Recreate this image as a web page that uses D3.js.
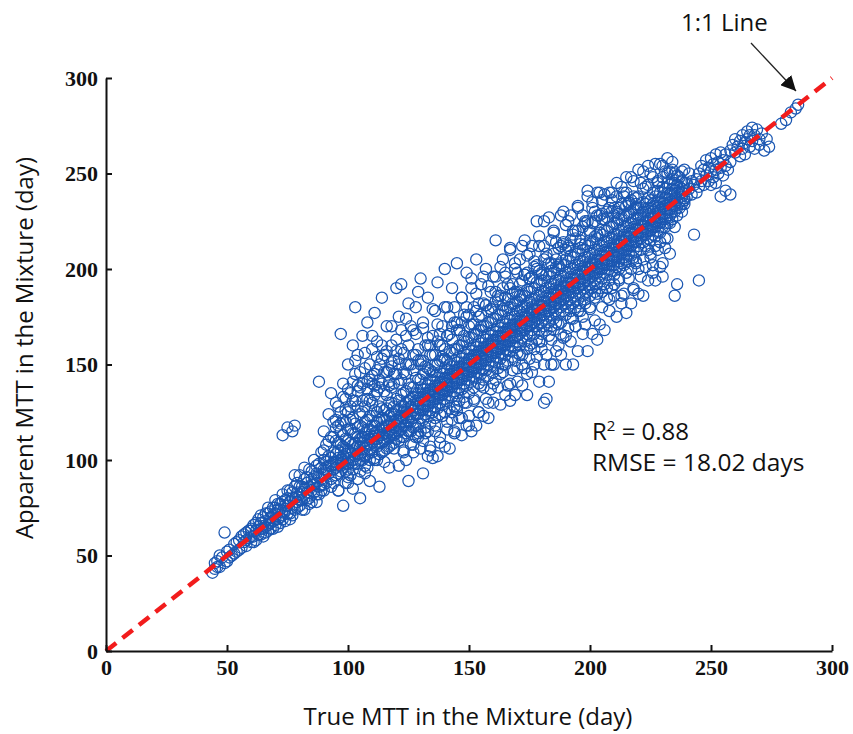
<!DOCTYPE html>
<html>
<head>
<meta charset="utf-8">
<script src="https://cdn.jsdelivr.net/npm/d3@7"></script>
<style>
  body { margin: 0; background: #fff; }
</style>
</head>
<body>
<script>
const width = 853, height = 734;

// [true MTT, apparent MTT] (days)
const mttPairs = [
  [44,41],[45,43],[46,47],[47,44],[48,49],[49,62],[50,47],[51,53],[52,50],[53,56],[54,52],[55,58],[56,54],[56,60],[57,57],[58,55],[58,62],[59,59],[60,57],[60,64],
  [61,60],[61,66],[62,63],[62,58],[63,65],[63,69],[64,61],[64,67],[65,64],[65,70],[66,62],[66,68],[67,66],[67,72],[68,64],[68,70],[69,68],[69,75],[70,66],[70,72],
  [70,79],[71,69],[71,74],[72,70],[72,77],[73,71],[73,113],[73,82],[74,73],[74,68],[75,76],[75,117],[75,80],[76,72],[76,84],[77,75],[77,115],[77,80],[78,118],[78,74],
  [78,86],[79,78],[79,83],[80,76],[80,82],[80,92],[81,79],[81,86],[82,80],[82,74],[82,90],[83,83],[83,88],[84,80],[84,95],[85,84],[85,78],[85,90],[86,87],[86,100],
  [87,82],[87,93],[88,141],[88,86],[88,98],[89,90],[89,84],[89,104],[90,92],[90,87],
  [90,100],[90,115],[91,88],[91,96],[91,108],[92,93],[92,102],[92,124],[93,90],[93,97],[93,112],[93,135],[94,95],[94,104],[94,88],[94,120],
  [95,99],[95,110],[95,92],[95,130],[96,97],[96,105],[96,118],[96,84],[97,100],[97,166],[97,108],[97,94],[97,125],[98,102],[98,113],[98,96],[98,140],[99,98],[99,106],[99,120],[99,88],[99,132],
  [100,101],[100,110],[100,95],[100,125],[100,150],[101,104],[101,116],[101,92],[101,135],[102,100],[102,108],[102,122],[102,160],[103,180],[103,106],[103,98],[103,114],[103,145],[104,103],[104,112],[104,128],[104,90],[104,155],
  [105,107],[105,118],[105,100],[105,138],[106,104],[106,112],[106,125],[106,165],[107,110],[107,102],[107,120],[107,148],[108,108],[108,116],[108,96],[108,132],[108,172],[109,111],[109,105],[109,123],[109,142],
  [110,112],[110,118],[110,104],[110,130],[110,158],[111,177],[111,114],[111,108],[111,126],[111,145],[112,111],[112,120],[112,100],[112,136],[112,162],[113,116],[113,109],[113,128],[113,150],[114,113],[114,122],[114,104],[114,140],[114,185],
  [115,117],[115,110],[115,126],[115,155],[116,114],[116,121],[116,106],[116,134],[116,170],[117,118],[117,112],[117,130],[117,147],[118,116],[118,124],[118,108],[118,138],[118,160],[119,120],[119,113],[119,128],[119,152],
  [120,190],[120,121],[120,114],[120,132],[120,145],[121,119],[121,126],[121,110],[121,140],[121,175],[122,192],[122,123],[122,116],[122,134],[122,158],[123,122],[123,128],[123,112],[123,146],[124,125],[124,118],[124,136],[124,100],[124,165],
  [125,89],[125,127],[125,120],[125,140],[125,182],[126,124],[126,132],[126,115],[126,150],[127,129],[127,122],[127,138],[127,108],[127,168],[128,128],[128,135],[128,118],[128,155],[129,131],[129,124],[129,142],[129,112],[129,188],
  [130,130],[130,138],[130,122],[130,150],[130,195],[131,133],[131,126],[131,145],[131,110],[131,172],[132,132],[132,140],[132,124],[132,160],[133,135],[133,128],[133,148],[133,115],[133,185],[134,134],[134,142],[134,126],[134,155],[134,105],
  [135,137],[135,130],[135,146],[135,165],[136,136],[136,144],[136,128],[136,178],[136,118],[137,139],[137,132],[137,150],[137,193],[138,138],[138,146],[138,130],[138,160],[138,112],[139,141],[139,134],[139,152],[139,170],
  [140,140],[140,148],[140,132],[140,158],[140,200],[141,143],[141,136],[141,152],[141,120],[141,180],[142,142],[142,150],[142,134],[142,166],[143,145],[143,138],[143,156],[143,125],[143,190],[144,144],[144,152],[144,136],[144,172],[144,115],
  [145,147],[145,140],[145,158],[145,203],[145,128],[146,146],[146,154],[146,138],[146,168],[147,149],[147,142],[147,160],[147,185],[147,122],[148,148],[148,156],[148,140],[148,176],[149,151],[149,144],[149,162],[149,130],[149,198],
  [150,150],[150,158],[150,142],[150,170],[150,118],[151,153],[151,146],[151,164],[151,190],[152,152],[152,160],[152,144],[152,180],[152,132],[153,155],[153,148],[153,166],[153,205],[154,154],[154,162],[154,146],[154,175],[154,125],
  [155,157],[155,150],[155,168],[155,192],[156,156],[156,164],[156,148],[156,182],[156,138],[157,159],[157,152],[157,170],[157,200],[158,158],[158,166],[158,150],[158,178],[158,130],[159,161],[159,154],[159,172],[159,188],
  [160,160],[160,168],[160,152],[160,180],[160,140],[161,215],[161,163],[161,156],[161,174],[161,196],[162,162],[162,170],[162,154],[162,186],[163,165],[163,158],[163,176],[163,145],[164,164],[164,172],[164,156],[164,190],[164,205],
  [165,167],[165,160],[165,178],[165,150],[165,198],[166,166],[166,174],[166,158],[166,184],[167,169],[167,162],[167,180],[167,140],[167,210],[168,168],[168,176],[168,160],[168,192],[169,171],[169,164],[169,182],[169,152],[169,200],
  [170,170],[170,178],[170,162],[170,188],[170,148],[171,173],[171,166],[171,184],[171,205],[172,172],[172,180],[172,164],[172,194],[172,155],[173,175],[173,168],[173,186],[173,215],[174,174],[174,182],[174,166],[174,198],[174,145],
  [175,177],[175,170],[175,188],[175,160],[175,208],[176,176],[176,184],[176,168],[176,196],[177,179],[177,172],[177,190],[177,150],[178,178],[178,225],[178,186],[178,170],[178,202],[179,181],[179,174],[179,192],[179,162],[179,212],
  [180,180],[180,188],[180,172],[180,198],[180,158],[181,225],[181,130],[181,183],[181,176],[181,194],[182,182],[182,132],[182,190],[182,174],[182,206],[183,185],[183,178],[183,196],[183,165],[184,184],[184,192],[184,176],[184,215],[184,150],
  [185,187],[185,180],[185,198],[185,168],[185,220],[186,186],[186,194],[186,178],[186,205],[187,189],[187,182],[187,200],[187,160],[188,188],[188,196],[188,180],[188,212],[188,172],[189,191],[189,184],[189,202],[189,230],
  [190,190],[190,198],[190,182],[190,210],[190,165],[191,193],[191,186],[191,204],[191,225],[192,192],[192,200],[192,184],[192,215],[192,174],[193,195],[193,188],[193,206],[193,150],[194,194],[194,202],[194,186],[194,220],[194,170],
  [195,197],[195,190],[195,208],[195,178],[195,232],[196,196],[196,204],[196,188],[196,215],[197,199],[197,192],[197,210],[197,175],[198,198],[198,206],[198,190],[198,225],[198,182],[199,201],[199,194],[199,212],[199,238],
  [200,200],[200,208],[200,192],[200,220],[200,180],[201,203],[201,196],[201,214],[201,232],[202,202],[202,210],[202,194],[202,225],[202,185],[203,240],[203,205],[203,198],[203,216],[203,163],[204,204],[204,212],[204,196],[204,228],
  [205,207],[205,200],[205,218],[205,188],[205,236],[206,206],[206,214],[206,198],[206,226],[207,209],[207,202],[207,220],[207,190],[208,208],[208,216],[208,200],[208,232],[208,184],[209,240],[209,211],[209,204],[209,222],
  [210,210],[210,218],[210,202],[210,228],[210,192],[211,213],[211,206],[211,224],[211,238],[212,212],[212,220],[212,204],[212,232],[212,195],[213,215],[213,208],[213,226],[213,186],[214,214],[214,222],[214,206],[214,238],
  [215,217],[215,210],[215,228],[215,198],[215,240],[216,216],[216,224],[216,208],[216,234],[217,219],[217,212],[217,230],[217,200],[218,218],[218,226],[218,210],[218,238],[218,190],[219,221],[219,214],[219,232],[219,204],
  [220,220],[220,228],[220,212],[220,238],[220,200],[221,223],[221,216],[221,232],[222,222],[222,230],[222,214],[222,242],[222,205],[223,225],[223,218],[223,234],[224,224],[224,232],[224,216],[224,210],[224,244],
  [225,227],[225,220],[225,236],[225,208],[226,226],[226,234],[226,218],[226,198],[227,229],[227,222],[227,238],[227,212],[228,228],[228,236],[228,220],[228,246],[229,231],[229,224],[229,240],[229,214],
  [230,196],[230,230],[230,238],[230,222],[230,248],[231,233],[231,226],[231,242],[231,216],[232,232],[232,240],[232,224],[232,250],[233,235],[233,228],[233,244],[234,234],[234,242],[234,226],[234,252],
  [235,186],[235,237],[235,230],[235,245],[235,222],[236,236],[236,244],[236,228],[236,192],[237,239],[237,232],[237,248],[238,238],[238,246],[238,230],[239,241],[239,234],[239,252],
  [45,46],[46,44],[47,50],[49,46],[50,52],[51,49],[53,51],[54,57],[55,53],[57,61],[58,58],[59,63],[60,60],
  [60,63],[61,57],[62,67],[63,61],[64,71],[64,64],[65,60],[66,72],[66,65],[67,63],[67,75],[68,73],[68,67],[69,64],[69,71],[70,75],[70,69],[71,77],[71,65],[72,74],
  [72,67],[73,78],[73,69],[74,79],[74,76],[75,72],[75,84],[76,78],[76,69],[77,83],[77,71],[78,80],[78,92],[79,75],[79,88],[80,79],[80,86],[81,83],[81,74],[82,85],
  [82,96],[83,79],[83,91],[84,86],[84,77],[85,94],[85,87],[86,83],[86,91],[87,88],[87,97],[87,78],[88,91],[88,82],[89,96],[89,87],[90,95],[90,84],
  [90,105],[91,99],[91,93],[92,97],[92,110],[93,101],[93,86],[94,99],[94,112],[95,103],[95,96],[95,117],[96,101],[96,93],[96,109],[97,104],[97,97],[97,115],[98,99],[98,107],
  [98,121],[99,103],[99,94],[99,111],[100,105],[100,98],[100,116],[100,88],[101,99],[101,109],[101,121],[102,105],[102,95],[102,114],[102,131],[103,102],[103,109],[103,119],[104,107],[104,98],
  [104,117],[104,136],[105,103],[105,111],[105,124],[105,94],[106,109],[106,100],[106,117],[106,140],[107,106],[107,114],[107,97],[107,128],[108,112],[108,103],[108,121],[108,141],[109,108],[109,116],
  [109,100],[109,131],[110,109],[110,115],[110,123],[110,140],[111,111],[111,118],[111,101],[111,134],[112,115],[112,107],[112,125],[112,147],[113,113],[113,121],[113,103],[113,138],[114,117],[114,109],
  [114,127],[114,153],[115,114],[115,121],[115,105],[115,136],[116,118],[116,111],[116,127],[116,146],[117,115],[117,123],[117,107],[117,139],[118,120],[118,113],[118,130],[118,149],[119,117],[119,124],
  [119,109],[119,140],[120,118],[120,126],[120,111],[120,157],[121,122],[121,115],[121,131],[121,150],[122,120],[122,128],[122,112],[122,142],[123,125],[123,118],[123,135],[123,104],[124,122],[124,130],
  [124,114],[124,150],[125,124],[125,131],[125,115],[125,150],[126,128],[126,120],[126,138],[126,108],[127,126],[127,133],[127,117],[127,147],[128,124],[128,131],[128,112],[128,143],[129,127],[129,135],
  [129,119],[129,152],
  [130,133],[130,126],[130,142],[130,115],[131,129],[131,137],[131,121],[131,152],[132,135],[132,128],[132,146],[132,117],[133,131],[133,139],[133,123],[133,160],[134,137],[134,130],[134,147],[134,119],
  [135,133],[135,141],[135,125],[135,155],[136,139],[136,132],[136,150],[136,122],[137,135],[137,143],[137,127],[137,162],[138,141],[138,134],[138,152],[138,124],[139,137],[139,145],[139,129],[139,160],
  [140,143],[140,136],[140,153],[140,125],[141,139],[141,147],[141,131],[141,165],[142,145],[142,138],[142,157],[142,127],[143,141],[143,149],[143,133],[143,170],[144,147],[144,140],[144,158],[144,128],
  [145,143],[145,151],[145,135],[145,168],[146,149],[146,142],[146,160],[146,131],[147,145],[147,153],[147,137],[147,172],[148,151],[148,144],[148,162],[148,133],[149,147],[149,155],[149,139],[149,175],
  [150,153],[150,146],[150,164],[150,135],[151,149],[151,157],[151,141],[151,171],[152,155],[152,148],[152,166],[152,138],[153,151],[153,159],[153,143],[153,178],[154,157],[154,150],[154,168],[154,140],
  [155,153],[155,161],[155,145],[155,176],[156,159],[156,152],[156,170],[156,142],[157,155],[157,163],[157,147],[157,181],[158,161],[158,154],[158,172],[158,144],[159,157],[159,165],[159,149],[159,179],
  [160,163],[160,156],[160,174],[160,146],[161,159],[161,167],[161,151],[161,183],[162,165],[162,158],[162,176],[162,148],[163,161],[163,169],[163,153],[163,186],[164,167],[164,160],[164,178],[164,150],
  [165,163],[165,171],[165,155],[165,185],[166,169],[166,162],[166,180],[166,152],[167,165],[167,173],[167,157],[167,190],[168,171],[168,164],[168,182],[168,154],[169,167],[169,175],[169,159],[169,188],
  [170,174],[170,165],[170,183],[170,156],[171,169],[171,178],[171,160],[171,192],[172,176],[172,168],[172,186],[172,150],[173,171],[173,180],[173,162],[173,197],[174,178],[174,170],[174,189],[174,158],
  [175,173],[175,183],[175,165],[175,195],[176,180],[176,172],[176,190],[176,161],[177,175],[177,184],[177,166],[177,201],[178,182],[178,174],[178,193],[178,163],[179,177],[179,186],[179,168],[179,199],
  [180,184],[180,176],[180,194],[180,166],[181,179],[181,188],[181,170],[181,205],[182,186],[182,178],[182,197],[182,168],[183,181],[183,190],[183,172],[183,203],[184,188],[184,180],[184,199],[184,170],
  [185,183],[185,192],[185,174],[185,208],[186,190],[186,182],[186,201],[186,172],[187,185],[187,194],[187,176],[187,211],[188,192],[188,184],[188,203],[188,166],[189,187],[189,196],[189,178],[189,214],
  [190,194],[190,186],[190,205],[190,176],[191,189],[191,198],[191,180],[191,212],[192,196],[192,188],[192,207],[192,178],[193,191],[193,200],[193,182],[193,218],[194,198],[194,190],[194,209],[194,180],
  [195,193],[195,202],[195,184],[195,220],[196,200],[196,192],[196,211],[196,182],[197,195],[197,204],[197,186],[197,222],[198,202],[198,194],[198,213],[198,184],[199,197],[199,206],[199,188],[199,225],
  [200,204],[200,196],[200,215],[200,186],[201,199],[201,208],[201,190],[201,224],[202,206],[202,198],[202,217],[202,188],[203,201],[203,210],[203,192],[203,228],[204,208],[204,200],[204,219],[204,190],
  [205,203],[205,212],[205,195],[205,226],[206,210],[206,202],[206,220],[206,192],[207,205],[207,214],[207,197],[207,230],[208,212],[208,204],[208,222],[208,194],[209,207],[209,216],[209,199],[209,230],
  [210,214],[210,206],[210,224],[210,197],[211,209],[211,218],[211,201],[211,230],[212,216],[212,208],[212,226],[212,200],[213,211],[213,220],[213,203],[213,234],[214,218],[214,210],[214,228],[214,202],
  [215,213],[215,222],[215,205],[215,233],[216,220],[216,212],[216,229],[216,204],[217,215],[217,224],[217,207],[217,236],[218,222],[218,214],[218,231],[218,206],[219,217],[219,226],[219,209],[219,237],
  [220,224],[220,216],[220,232],[221,219],[221,228],[221,210],[222,226],[222,218],[222,235],[223,221],[223,230],[223,212],[224,228],[224,220],[224,237],[225,223],[225,232],[225,215],[226,230],[226,222],
  [226,240],[227,225],[227,233],[227,217],[228,232],[228,224],[228,241],[229,227],[229,235],[229,219],[230,234],[230,226],[230,243],[231,229],[231,237],[231,222],[232,236],[232,228],[232,245],[233,231],
  [233,239],[233,224],[234,238],[234,230],[234,247],[235,233],[235,241],[236,240],[236,232],[236,249],[237,235],[237,243],[238,242],[238,234],[238,251],[239,237],[239,245],
  [95,121],[96,128],[96,84],[97,119],[98,133],[98,76],[99,126],[100,137],[100,91],[101,128],[102,141],[102,85],[103,131],[103,152],[104,139],[105,146],[105,80],[106,131],[107,156],[107,93],
  [108,137],[109,150],[109,89],[110,144],[110,165],[111,139],[111,100],[112,154],[113,142],[113,86],[114,160],[115,146],[115,99],[116,157],[117,141],[117,96],[118,151],[118,170],[119,145],[119,106],
  [120,163],[121,153],[121,97],[122,168],[123,156],[123,105],[124,145],[124,174],[125,160],[125,115],[126,170],[127,155],[127,104],[128,166],[128,180],[129,158],[129,114],
  [130,152],[130,106],[131,169],[131,93],[132,149],[132,114],[133,164],[133,102],[134,160],[134,107],[135,179],[135,101],[136,155],[136,115],[137,171],[137,102],[138,166],[138,109],[139,154],[139,123],
  [140,180],[140,107],[141,165],[141,116],[142,175],[142,106],[143,163],[143,121],[144,180],[144,114],[145,172],[145,126],[146,168],[146,122],[147,185],[147,113],[148,165],[148,130],[149,180],[149,118],
  [150,176],[150,123],[151,195],[151,115],[152,171],[152,131],[153,187],[153,118],[154,182],[154,125],[155,170],[155,139],[156,196],[156,123],[157,181],[157,132],[158,191],[158,122],[159,179],[159,137],
  [160,196],[160,130],[161,188],[161,142],[162,184],[162,138],[163,201],[163,129],[164,181],[164,146],[165,196],[165,134],[166,192],[166,139],[167,211],[167,131],[168,187],[168,147],[169,203],[169,134],
  [170,198],[170,141],[171,186],[171,155],[172,212],[172,139],[173,197],[173,148],[174,207],[174,134],[175,195],[175,153],[176,212],[176,146],[177,204],[177,158],[178,200],[178,154],[179,217],[179,141],
  [180,197],[180,162],[181,212],[181,150],[182,208],[182,155],[183,227],[183,141],[184,203],[184,163],[185,219],[185,150],[186,214],[186,157],[187,202],[187,171],[188,228],[188,155],[189,213],[189,164],
  [190,223],[190,150],[191,211],[191,169],[192,228],[192,162],[193,220],[193,174],[194,216],[194,170],[195,233],[195,157],[196,213],[196,178],[197,228],[197,166],[198,224],[198,171],[199,241],[199,157],
  [200,219],[200,179],[201,235],[201,166],[202,230],[202,173],[203,218],[203,187],[204,240],[204,171],[205,229],[205,180],[206,239],[206,168],[207,227],[207,185],[208,240],[208,178],[209,236],[209,190],
  [210,232],[210,186],[211,245],[211,175],[212,229],[212,194],[213,243],[213,182],[214,240],[214,187],[215,248],[215,177],[216,235],[216,195],[217,248],[217,182],[218,246],[218,189],[219,234],[219,203],
  [220,252],[220,187],[221,245],[221,196],[222,251],[222,186],[223,243],[223,201],[224,254],[224,194],[225,250],[225,206],[226,248],[226,202],[227,255],[227,194],[228,245],[228,210],[229,255],[229,201],
  [230,254],[230,203],[231,251],[231,211],[232,258],[232,216],[233,251],[233,208],[234,256],[235,250],
  [238,240],[239,236],[240,245],[240,238],[241,242],[241,250],[242,239],[242,246],[243,244],[243,218],[244,247],[244,240],[245,194],[245,243],
  [245,250],[246,246],[246,254],[247,252],[247,244],[248,249],[248,257],[249,253],[249,246],[250,251],[250,258],[250,244],[251,255],[251,248],[252,252],
  [252,260],[252,245],[253,256],[253,250],[254,253],[254,261],[255,257],[255,249],[256,254],[256,241],[256,260],[257,252],[258,239],[258,256],[254,238],
  [258,262],[259,265],[260,261],[260,268],[261,264],[262,259],[262,267],[263,263],[263,270],[264,266],[264,260],[265,268],[265,272],[266,264],[266,270],
  [267,267],[267,274],[268,263],[268,270],[269,273],[270,268],[270,265],[271,271],[272,262],[273,268],[274,264],
  [279,276],[281,278],[283,282],[285,284],[286,286]
];

const xTicks = [0, 50, 100, 150, 200, 250, 300];
const yTicks = [0, 50, 100, 150, 200, 250, 300];
const oneToOne = [[0, 0], [300, 300]];
const statLines = ["R", " = 0.88"];
const rmseLine = "RMSE = 18.02 days";

const svg = d3.select("body")
    .append("svg")
    .attr("width", width)
    .attr("height", height);

const x = d3.scaleLinear().domain([0, 300]).range([106, 832]);
const y = d3.scaleLinear().domain([0, 300]).range([651, 78]);

const sans = "'Open Sans', 'Noto Sans', sans-serif";

// points
svg.append("g")
    .selectAll("circle")
    .data(mttPairs)
    .enter()
    .append("circle")
    .attr("cx", d => x(d[0]))
    .attr("cy", d => y(d[1]))
    .attr("r", 5.6)
    .attr("fill", "none")
    .attr("stroke", "#1b57b2")
    .attr("stroke-width", 1.25);

// 1:1 line on top
svg.append("path")
    .datum(oneToOne)
    .attr("d", d3.line().x(d => x(d[0])).y(d => y(d[1])))
    .attr("stroke", "#f21c1c")
    .attr("stroke-width", 4.5)
    .attr("stroke-dasharray", "13,8")
    .attr("fill", "none");

// axes, ticks pointing inwards
const xAxis = svg.append("g")
    .attr("transform", `translate(0,${y(0)})`)
    .call(d3.axisBottom(x).tickValues(xTicks).tickSizeInner(-6).tickSizeOuter(0).tickPadding(8));

const yAxis = svg.append("g")
    .attr("transform", `translate(${x(0)},0)`)
    .call(d3.axisLeft(y).tickValues(yTicks).tickSizeInner(-6).tickSizeOuter(0).tickPadding(8));

[xAxis, yAxis].forEach(g => {
    g.select(".domain").attr("stroke", "#111").attr("stroke-width", 2);
    g.selectAll(".tick line").attr("stroke", "#111").attr("stroke-width", 2);
    g.selectAll(".tick text")
        .attr("fill", "#111")
        .style("font-family", "'Liberation Serif', 'Times New Roman', serif")
        .style("font-weight", "bold")
        .style("font-size", "22px");
});

// axis titles
svg.append("text")
    .attr("x", 468)
    .attr("y", 725)
    .attr("text-anchor", "middle")
    .style("font-family", sans)
    .style("font-size", "24px")
    .attr("fill", "#111")
    .text("True MTT in the Mixture (day)");

svg.append("text")
    .attr("transform", "translate(33,348) rotate(-90)")
    .attr("text-anchor", "middle")
    .style("font-family", sans)
    .style("font-size", "24px")
    .attr("fill", "#111")
    .text("Apparent MTT in the Mixture (day)");

// stats
const stat = svg.append("text")
    .attr("x", 592)
    .attr("y", 440)
    .style("font-family", sans)
    .style("font-size", "24px")
    .attr("fill", "#111");
stat.append("tspan").text(statLines[0]);
stat.append("tspan").attr("dy", -9).style("font-size", "15px").text("2");
stat.append("tspan").attr("dy", 9).text(statLines[1]);

svg.append("text")
    .attr("x", 592)
    .attr("y", 471)
    .style("font-family", sans)
    .style("font-size", "24.5px")
    .attr("fill", "#111")
    .text(rmseLine);

// 1:1 line label with arrow
const defs = svg.append("defs");
defs.append("marker")
    .attr("id", "arrowHead")
    .attr("viewBox", "0 0 10 10")
    .attr("refX", 10)
    .attr("refY", 5)
    .attr("markerWidth", 15)
    .attr("markerHeight", 15)
    .attr("markerUnits", "userSpaceOnUse")
    .attr("orient", "auto")
    .append("path")
    .attr("d", "M0,0 L10,5 L0,10 z")
    .attr("fill", "#111");

svg.append("text")
    .attr("x", 681)
    .attr("y", 31)
    .style("font-family", sans)
    .style("font-size", "24px")
    .attr("fill", "#111")
    .text("1:1 Line");

svg.append("line")
    .attr("x1", 751).attr("y1", 43)
    .attr("x2", 796).attr("y2", 91)
    .attr("stroke", "#222")
    .attr("stroke-width", 1.3)
    .attr("marker-end", "url(#arrowHead)");
</script>
</body>
</html>
